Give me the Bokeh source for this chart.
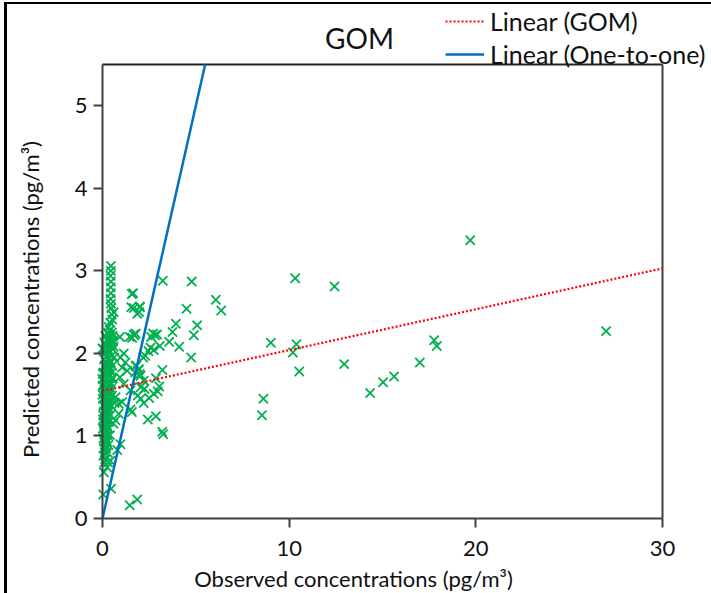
import math
from bokeh.plotting import figure
from bokeh.models import Legend, LegendItem, Label, FixedTicker, InlineStyleSheet, Range1d
from bokeh.embed import file_html
from bokeh.resources import INLINE

# ---------------- data ----------------
# observed (x) and predicted (y) concentrations, pg/m3
obs = [
    # tall column near x~0.45
    0.45, 0.45, 0.43, 0.45, 0.44, 0.45, 0.43, 0.45, 0.47, 0.50, 0.60, 0.52, 0.42, 0.33, 0.38,
    # dense cluster
    0.30, 0.50, 0.15, 0.40, 0.55, 0.25, 0.45, 0.10, 0.35, 0.50, 0.20, 0.42,
    0.05, 0.30, 0.55, 0.15, 0.38, 0.25, 0.48, 0.08, 0.33, 0.20, 0.44,
    0.12, 0.30, 0.52, 0.22, 0.40, 0.05, 0.28, 0.47, 0.15, 0.36,
    0.00, 0.25, 0.50, 0.10, 0.32, 0.42, 0.02, 0.20, 0.38,
    0.12, 0.28, 0.46, 0.06, 0.22, 0.35, 0.15, 0.30, 0.50,
    0.02, 0.10, 0.25, 0.40, 0.18, 0.33, 0.05, 0.12, 0.28, 0.45,
    0.20, 0.36, 0.08, 0.15, 0.30, 0.03, 0.22, 0.40, 0.12, 0.28,
    0.06, 0.18, 0.35, 0.10, 0.25, 0.02, 0.15, 0.32, 0.08, 0.20,
    0.12, 0.28, 0.40, 0.05, 0.18, 0.10, 0.25, 0.15, 0.32, 0.08, 0.20,
    0.12, 0.28, 0.05, 0.15, 0.10, 0.30,
    0.58, 0.62, 0.55, 0.65, 0.58, 0.60, 0.00, 0.02, 0.00, 0.03,
    # near origin, lower part
    0.43, 0.25, 0.07, 0.46, 0.04, 1.46, 1.86, 0.96, 0.79,
    # around x 0.6 - 2
    1.57, 1.54, 2.00, 1.96, 0.93, 1.46, 1.71, 1.78, 1.14, 0.96, 1.23, 1.05, 1.32,
    1.77, 1.95, 2.00, 0.93, 1.14, 1.50, 0.70, 0.87, 1.05, 1.50, 0.87, 0.70,
    # x 1.5 - 6.5
    3.23, 4.78, 6.07, 6.36, 4.50, 1.64, 1.68, 2.00, 1.86, 3.93, 5.07, 3.75, 4.89,
    1.68, 1.59, 2.71, 2.93, 2.61, 2.82, 3.57, 3.07, 4.11, 2.57, 2.75, 2.46,
    2.29, 2.18, 4.75, 3.21, 1.82, 1.93, 1.75, 2.04, 2.86, 2.21, 2.04, 2.25,
    3.04, 2.96, 2.75, 1.89, 2.04, 2.50, 2.21, 1.57, 2.43, 2.86, 3.20, 3.25,
    # far right
    19.7, 10.32, 12.43, 9.02, 10.39, 10.20, 10.54, 12.95, 8.62, 8.54,
    14.34, 15.03, 15.62, 17.00, 17.77, 17.91, 26.98,
]
pred = [
    3.06, 3.00, 2.94, 2.87, 2.80, 2.73, 2.66, 2.60, 2.55, 2.47, 2.50, 2.41, 2.37, 2.32, 2.28,
    2.25, 2.25, 2.21, 2.21, 2.21, 2.17, 2.17, 2.13, 2.13, 2.13, 2.09, 2.09,
    2.05, 2.05, 2.05, 2.01, 2.01, 1.97, 1.97, 1.93, 1.93, 1.89, 1.89,
    1.85, 1.85, 1.85, 1.81, 1.81, 1.77, 1.77, 1.77, 1.73, 1.73,
    1.69, 1.69, 1.69, 1.65, 1.65, 1.65, 1.61, 1.61, 1.61,
    1.57, 1.57, 1.57, 1.53, 1.53, 1.53, 1.49, 1.49, 1.49,
    1.45, 1.45, 1.45, 1.45, 1.41, 1.41, 1.37, 1.37, 1.37, 1.37,
    1.33, 1.33, 1.29, 1.29, 1.29, 1.25, 1.25, 1.25, 1.21, 1.21,
    1.17, 1.17, 1.17, 1.13, 1.13, 1.09, 1.09, 1.09, 1.05, 1.05,
    1.01, 1.01, 1.01, 0.97, 0.97, 0.93, 0.93, 0.89, 0.89, 0.85, 0.85,
    0.80, 0.80, 0.76, 0.72, 0.68, 0.68,
    2.15, 1.95, 1.70, 1.40, 1.15, 2.08, 2.06, 1.75, 1.50, 1.20,
    0.70, 0.62, 0.56, 0.36, 0.29, 0.16, 0.23, 0.90, 0.83,
    2.72, 2.56, 2.57, 2.50, 2.20, 2.20, 2.22, 2.24, 2.00, 1.95, 1.89, 1.83, 1.79,
    1.85, 1.81, 1.75, 1.71, 1.63, 1.55, 1.47, 1.39, 1.41, 1.32, 1.27, 1.19,
    2.88, 2.87, 2.65, 2.52, 2.54, 2.73, 2.55, 2.56, 2.48, 2.36, 2.34, 2.26, 2.22,
    2.23, 2.19, 2.24, 2.23, 2.20, 2.22, 2.14, 2.09, 2.08, 2.07, 2.04, 2.03,
    1.97, 1.95, 1.95, 1.80, 1.85, 1.80, 1.77, 1.73, 1.70, 1.67, 1.59, 1.57,
    1.60, 1.54, 1.51, 1.49, 1.45, 1.46, 1.40, 1.29, 1.20, 1.24, 1.05, 1.02,
    3.37, 2.91, 2.81, 2.13, 2.11, 2.01, 1.78, 1.87, 1.45, 1.25,
    1.52, 1.65, 1.72, 1.89, 2.16, 2.09, 2.27,
]

# trend line (Linear GOM) and one-to-one line
fit_x = [0, 30]
fit_y = [1.545, 3.03]
one_x = [0, 5.5]
one_y = [0, 5.5]

x_max = 30
y_max = 5.5
x_ticks = [0, 10, 20, 30]
y_ticks = [0, 1, 2, 3, 4, 5]

title_text = "GOM"
x_title = "Observed concentrations (pg/m\u00b3)"
y_title = "Predicted concentrations (pg/m\u00b3)"
legend_labels = ["Linear (GOM)", "Linear (One-to-one)"]

FONT = "Lato"

# The frame covers the whole canvas; the axes are pinned at x=0 / y=0 with
# fixed_location, so that the title, axis titles and legend can sit anywhere.
W, H = 711, 593
LEFT, BOTTOM = 102, 75          # pixel position of the data origin
PX_X = 560 / x_max              # pixels per x unit
PX_Y = 454 / y_max              # pixels per y unit
x_start = -LEFT / PX_X
x_end = (W - LEFT) / PX_X
y_start = -BOTTOM / PX_Y
y_end = (H - BOTTOM) / PX_Y

p = figure(width=W, height=H, x_range=Range1d(x_start, x_end),
           y_range=Range1d(y_start, y_end),
           output_backend="svg", toolbar_location=None,
           min_border=0, min_border_left=0, min_border_right=0,
           min_border_top=0, min_border_bottom=0)
p.background_fill_color = "white"
p.border_fill_color = "white"
p.xgrid.visible = False
p.ygrid.visible = False
p.outline_line_color = None

# plot box (top and right edges)
p.line([0, x_max], [y_max, y_max], line_color="#222222", line_width=2)
p.line([x_max, x_max], [0, y_max], line_color="#404040", line_width=2)

p.scatter(obs, pred, marker="x", size=13, line_color="#00B050", line_width=1.8)

r_fit = p.line(fit_x, fit_y, line_color="#FF0000", line_width=2.2, line_dash="2 2")
r_one = p.line(one_x, one_y, line_color="#0070C0", line_width=2.5)

for ax in (p.xaxis[0], p.yaxis[0]):
    ax.fixed_location = 0
    ax.axis_line_color = "#404040"
    ax.axis_line_width = 2
    ax.major_tick_line_color = "#404040"
    ax.major_tick_line_width = 2
    ax.major_tick_out = 9
    ax.major_tick_in = 0
    ax.minor_tick_out = 0
    ax.minor_tick_in = 0
    ax.major_label_text_font = FONT
    ax.major_label_text_font_size = "22px"
    ax.major_label_text_color = "#111111"

p.xaxis[0].ticker = FixedTicker(ticks=x_ticks)
p.yaxis[0].ticker = FixedTicker(ticks=y_ticks)
p.xaxis[0].bounds = (0, x_max)
p.yaxis[0].bounds = (0, y_max)
p.xaxis[0].major_label_standoff = 13
p.yaxis[0].major_label_standoff = 6

# titles
p.add_layout(Label(x=(359 - LEFT) / PX_X, y=(H - BOTTOM - 37) / PX_Y, text=title_text,
                   text_align="center", text_baseline="middle", text_font=FONT,
                   text_font_size="28px", text_color="#111111"))
p.add_layout(Label(x=(353 - LEFT) / PX_X, y=-(578 - (H - BOTTOM)) / PX_Y, text=x_title,
                   text_align="center", text_baseline="middle", text_font=FONT,
                   text_font_size="22px", text_color="#111111"))
p.add_layout(Label(x=-(LEFT - 30) / PX_X, y=((H - BOTTOM) - 299) / PX_Y, text=y_title,
                   text_align="center", text_baseline="middle", angle=math.pi / 2,
                   text_font=FONT, text_font_size="22px", text_color="#111111"))

legend = Legend(items=[LegendItem(label=legend_labels[0], renderers=[r_fit]),
                       LegendItem(label=legend_labels[1], renderers=[r_one])],
                location=(445, 524), orientation="vertical")
legend.label_text_font = FONT
legend.label_text_font_size = "25px"
legend.label_text_color = "#111111"
legend.glyph_width = 39
legend.glyph_height = 30
legend.label_height = 30
legend.spacing = 3
legend.padding = 0
legend.margin = 0
legend.label_standoff = 6
legend.border_line_color = None
legend.background_fill_alpha = 0
p.add_layout(legend, "center")

p.stylesheets = [InlineStyleSheet(css="""
:host { position: relative; }
:host::before { content: ''; position: absolute; left: 4px; top: 2px; width: 707px; height: 2px;
  background: black; pointer-events: none; z-index: 10; }
:host::after { content: ''; position: absolute; left: 4px; top: 2px; width: 3px; height: 591px;
  background: black; pointer-events: none; z-index: 10; }
""")]

open("out.html", "w").write(file_html(p, INLINE))
